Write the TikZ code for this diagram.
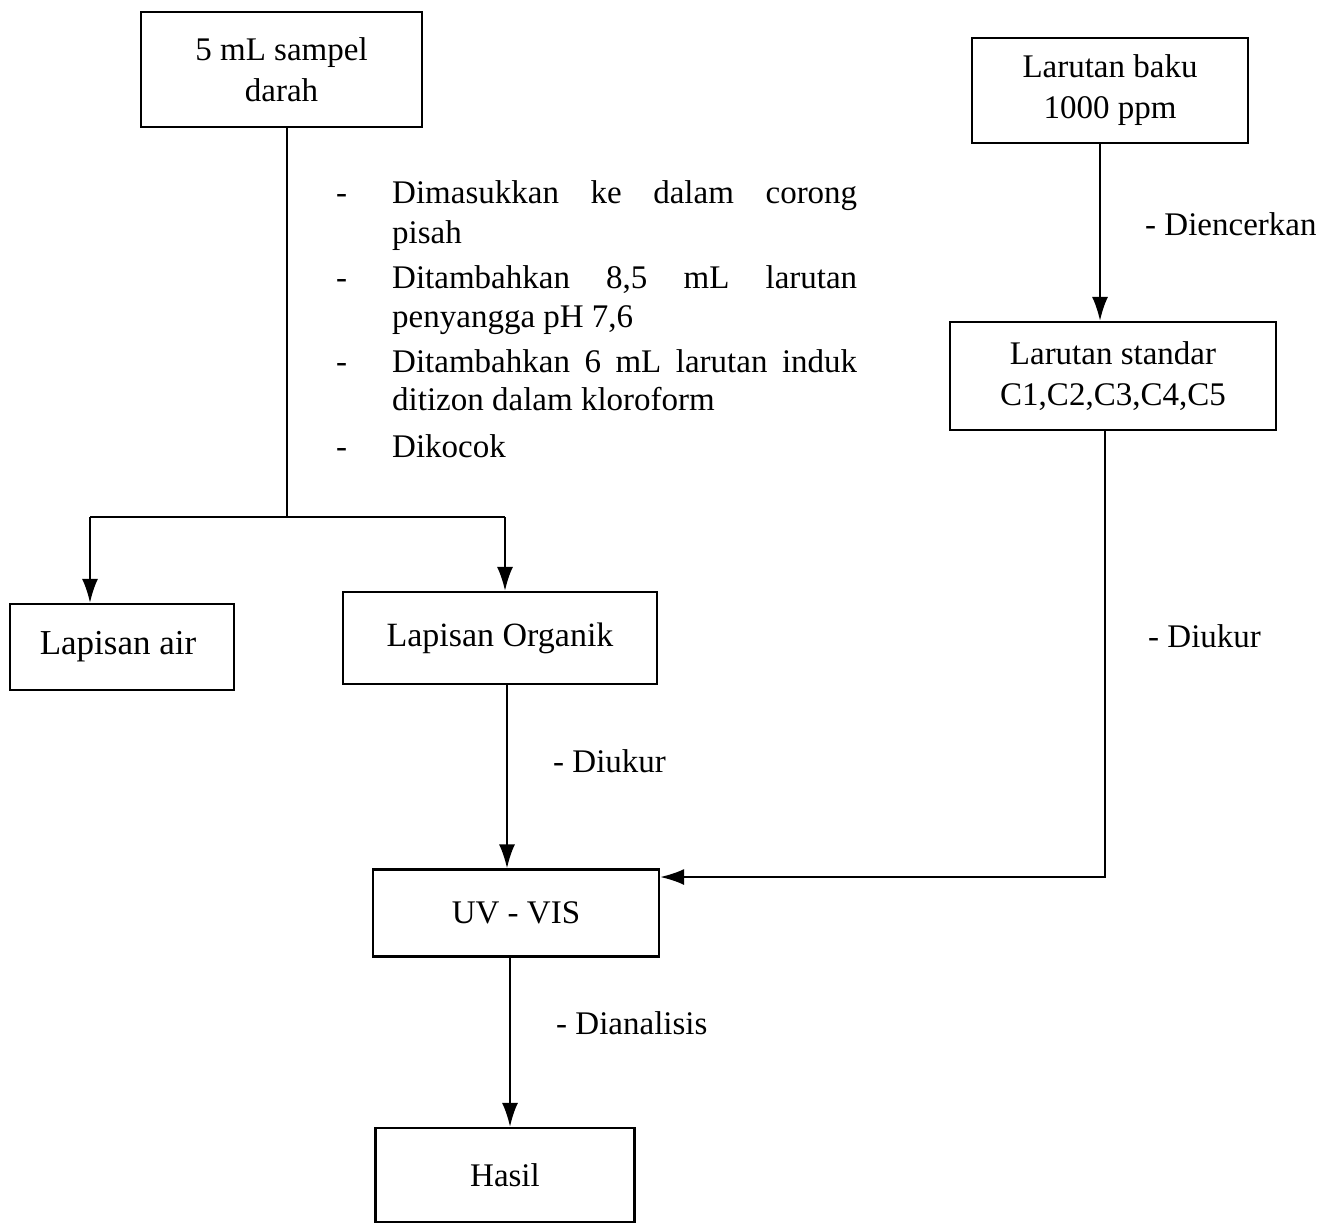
\documentclass[tikz,border=0pt]{standalone}
\usepackage{fontspec}
\setmainfont{Liberation Serif}
\usetikzlibrary{arrows.meta}
\begin{document}
\begin{tikzpicture}[x=1pt,y=-1pt,
  box/.style={draw, line width=2.2pt, inner sep=0pt, align=center, font=\fontsize{33}{41}\selectfont},
  arr/.style={line width=2.2pt, -{Latex[length=24pt,width=16pt]}},
  ln/.style={line width=2.2pt},
  lbl/.style={inner sep=0pt, anchor=base west, font=\fontsize{33}{40}\selectfont}]
\fill[white] (0,0) rectangle (1327,1226);
\useasboundingbox (0,0) rectangle (1327,1226);

% boxes
\node[box, minimum width=281pt, minimum height=115pt] (sampel) at (281.5,69.5) {5 mL sampel\\darah};
\node[box, minimum width=276pt, minimum height=105pt] (baku) at (1110,90.5) {Larutan baku\\1000 ppm};
\node[box, minimum width=224pt, minimum height=86pt] (air) at (122,647) {\fontsize{35}{41}\selectfont Lapisan air\hspace*{8pt}};
\node[box, minimum width=314pt, minimum height=92pt] (org) at (500,638) {\fontsize{34}{41}\selectfont Lapisan Organik};
\node[box, minimum width=326pt, minimum height=108pt] (std) at (1113,376) {Larutan standar\\C1,C2,C3,C4,C5};
\node[box, minimum width=286pt, minimum height=87pt] (uv) at (516,913) {UV - VIS};
\node[box, minimum width=259pt, minimum height=94pt] (hasil) at (505,1175) {Hasil};

% step list
\node[lbl] (d1) at (336,203) {-};
\node[lbl] (d2) at (336,288) {-};
\node[lbl] (d3) at (336,372) {-};
\node[lbl] (d4) at (336,457) {-};
\node[lbl] (t1a) at (392,203) {\hbox to 465pt{Dimasukkan\hfill ke\hfill dalam\hfill corong}};
\node[lbl] (t1b) at (392,243) {pisah};
\node[lbl] (t2a) at (392,288) {\hbox to 465pt{Ditambahkan\hfill 8,5\hfill mL\hfill larutan}};
\node[lbl] (t2b) at (392,327) {penyangga pH 7,6};
\node[lbl] (t3a) at (392,372) {\hbox to 465pt{Ditambahkan\hfill 6\hfill mL\hfill larutan\hfill induk}};
\node[lbl] (t3b) at (392,410) {ditizon dalam kloroform};
\node[lbl] (t4) at (392,457) {Dikocok};

% side labels
\node[lbl] (l1) at (1145,235) {- Diencerkan};
\node[lbl] (l2) at (1148,647) {- Diukur};
\node[lbl] (l3) at (553,772) {- Diukur};
\node[lbl] (l4) at (556,1034) {- Dianalisis};

% connectors
\coordinate (jl) at (90,517);
\coordinate (jr) at (505,517);
\draw[ln] ([xshift=5.5pt]sampel.south) -- ([xshift=5.5pt]sampel.south |- jl);
\draw[ln] (jl) -- (jr);
\draw[arr] (jl) -- (jl |- air.north);
\draw[arr] (jr) -- (jr |- org.north);
\draw[arr] ([xshift=-10pt]baku.south) -- ([xshift=-10pt]baku.south |- std.north);
\draw[arr] ([xshift=-8pt]std.south) |- ([yshift=36pt]uv.east);
\draw[arr] ([xshift=7pt]org.south) -- ([xshift=7pt]org.south |- uv.north);
\draw[arr] ([xshift=-6pt]uv.south) -- ([xshift=-6pt]uv.south |- hasil.north);
\end{tikzpicture}
\end{document}
